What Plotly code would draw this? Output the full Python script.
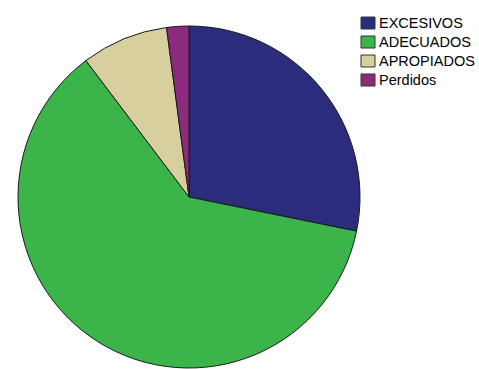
import plotly.graph_objects as go

# Distribution of answers (percent of cases)
labels = ["EXCESIVOS", "ADECUADOS", "APROPIADOS", "Perdidos"]
values = [28.2, 61.5, 8.2, 2.1]
colors = ["#2b2d7c", "#3bb54a", "#d8cf9f", "#8c2a7e"]

W, H = 479, 369

fig = go.Figure(
    go.Pie(
        labels=labels,
        values=values,
        sort=False,
        direction="clockwise",
        rotation=0,
        textinfo="none",
        hoverinfo="label+percent",
        marker=dict(colors=colors, line=dict(color="#1a1a1a", width=1)),
        domain=dict(x=[18 / W, 360 / W], y=[1 / H, 343 / H]),
        showlegend=False,
    )
)

# Legend drawn as swatches plus labels in the top-right corner
leg_x0, leg_y0, leg_step = 361, 23, 19
for i, (lab, col) in enumerate(zip(labels, colors)):
    yc = leg_y0 + i * leg_step
    fig.add_shape(
        type="rect",
        xref="paper", yref="paper",
        x0=leg_x0 / W, x1=(leg_x0 + 14) / W,
        y0=1 - (yc + 6) / H, y1=1 - (yc - 6) / H,
        fillcolor=col,
        line=dict(color="#333333", width=1),
    )
    fig.add_annotation(
        xref="paper", yref="paper",
        x=(leg_x0 + 16) / W, y=1 - yc / H,
        xanchor="left", yanchor="middle",
        text=lab, showarrow=False,
        font=dict(family="Liberation Sans, Arial", size=14.5, color="#000000"),
    )

fig.update_layout(
    width=W, height=H,
    margin=dict(l=0, r=0, t=0, b=0),
    paper_bgcolor="white",
    plot_bgcolor="white",
)

fig.write_html("out.html")
